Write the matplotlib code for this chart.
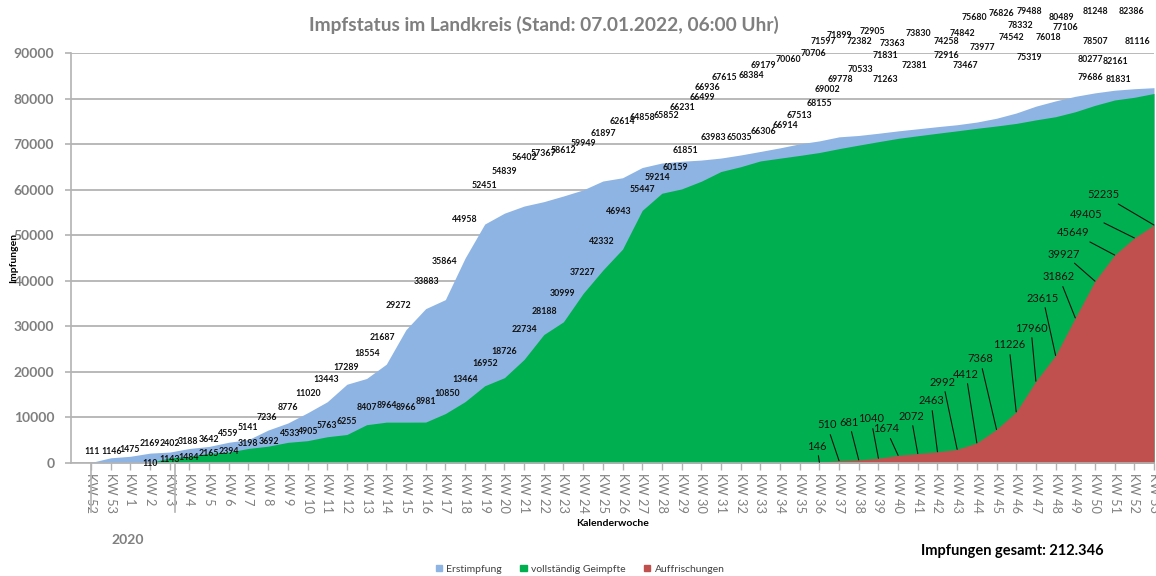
import matplotlib
matplotlib.use("Agg")
import matplotlib.pyplot as plt
from matplotlib.patches import Patch
from matplotlib.transforms import blended_transform_factory
import numpy as np

plt.rcParams['font.family'] = ['Lato', 'DejaVu Sans']

# ---------------- data ----------------
weeks = ["KW 52", "KW 53"] + [f"KW {k}" for k in range(1, 54)]

erstimpfung = [111, 1146, 1475, 2169, 2402, 3188, 3642, 4559, 5141, 7236,
               8776, 11020, 13443, 17289, 18554, 21687, 29272, 33883, 35864, 44958,
               52451, 54839, 56402, 57367, 58612, 59949, 61897, 62614, 64858, 65852,
               66231, 66499, 66936, 67615, 68384, 69179, 70060, 70706, 71597, 71899,
               72382, 72905, 73363, 73830, 74258, 74842, 75680, 76826, 78332, 79488,
               80489, 81248, 81831, 82161, 82386]

# starts at KW 2
vollstaendig_start = "KW 2"
vollstaendig = [110, 1143, 1484, 2165, 2394, 3198, 3692, 4533, 4905, 5763,
                6255, 8407, 8964, 8966, 8981, 10850, 13464, 16952, 18726, 22734,
                28188, 30999, 37227, 42332, 46943, 55447, 59214, 60159, 61851, 63983,
                65035, 66306, 66914, 67513, 68155, 69002, 69778, 70533, 71263, 71831,
                72381, 72916, 73467, 73977, 74542, 75319, 76018, 77106, 78507, 79686,
                80277, 81116]

# starts at KW 36
auffrisch_start = "KW 36"
auffrischungen = [146, 510, 681, 1040, 1674, 2072, 2463, 2992, 4412, 7368,
                  11226, 17960, 23615, 31862, 39927, 45649, 49405, 52235]

title = "Impfstatus im Landkreis (Stand: 07.01.2022, 06:00 Uhr)"
total_text = "Impfungen gesamt: 212.346"

# ---------------- layout (label centres in figure pixels, top-left origin) ----------------
erst_label_px = [(92, 452), (112, 451), (130, 449), (150, 443), (170, 443), (188, 441),
                 (209, 440), (228, 433), (248, 428), (267, 418), (288, 407), (308, 394),
                 (326, 380), (346, 368), (367, 353), (382, 338), (398, 305), (426, 281),
                 (444, 262), (465, 220), (484, 185), (504, 171), (524, 157), (543, 154),
                 (563, 150), (583, 143), (603, 133), (622, 122), (642, 117), (666, 115),
                 (682, 107), (702, 97), (707, 87), (724, 77), (751, 75), (763, 65),
                 (788, 60), (813, 53), (823, 42), (839, 35), (859, 41), (872, 32),
                 (892, 43), (918, 34), (946, 42), (962, 33), (974, 17), (1001, 13),
                 (1020, 26), (1029, 12), (1061, 17), (1095, 12), (1118, 79), (1115, 61),
                 (1131, 12)]
voll_label_px = [(150, 464), (170, 459), (189, 458), (209, 453), (229, 451), (248, 444),
                 (269, 442), (290, 433), (308, 432), (327, 426), (347, 422), (367, 408),
                 (387, 406), (406, 407), (426, 402), (447, 394), (465, 379), (485, 363),
                 (504, 352), (524, 330), (544, 312), (563, 294), (583, 273), (602, 241),
                 (619, 211), (642, 189), (657, 177), (675, 167), (685, 150), (713, 137),
                 (739, 137), (763, 132), (785, 126), (799, 115), (819, 103), (827, 90),
                 (840, 79), (860, 69), (885, 79), (885, 55), (914, 65), (946, 55),
                 (965, 66), (982, 47), (1011, 38), (1029, 57), (1048, 38), (1065, 28),
                 (1095, 42), (1090, 77), (1090, 60), (1137, 42)]
auff_label_px = [(817, 446), (827, 425), (849, 422), (871, 419), (886, 429), (911, 416),
                 (931, 401), (943, 382), (966, 374), (980, 359), (1009, 345), (1031, 328),
                 (1043, 298), (1059, 277), (1064, 254), (1073, 233), (1086, 214), (1103, 195)]

W, H = 1156, 576
C_BLUE = "#8EB4E3"
C_GREEN = "#00B050"
C_RED = "#C0504D"
C_GRAY = "#7F7F7F"
C_GRID = "#B3B3B3"

n = len(weeks)
x = np.arange(n)
i_voll = weeks.index(vollstaendig_start)
i_auff = weeks.index(auffrisch_start)
x_voll = x[i_voll:i_voll + len(vollstaendig)]
x_auff = x[i_auff:i_auff + len(auffrischungen)]

fig = plt.figure(figsize=(W / 100, H / 100), dpi=100)
ax = fig.add_axes([71 / W, 1 - 463 / H, (1154 - 71) / W, (463 - 53) / H])

ax.fill_between(x, 0, erstimpfung, color=C_BLUE, lw=0, zorder=2)
ax.fill_between(x_voll, 0, vollstaendig, color=C_GREEN, lw=0, zorder=3)
ax.fill_between(x_auff, 0, auffrischungen, color=C_RED, lw=0, zorder=4)

ax.set_xlim(-(91 - 71) / 19.685, n - 1)
ax.set_ylim(0, 90000)
ax.set_yticks(np.arange(0, 90001, 10000))
ax.yaxis.grid(True, color=C_GRID, lw=1.3, zorder=0)
ax.set_axisbelow(True)
for s in ["top", "right"]:
    ax.spines[s].set_visible(False)
for s in ["left", "bottom"]:
    ax.spines[s].set_color(C_GRID)
    ax.spines[s].set_linewidth(1.2)
    ax.spines[s].set_zorder(5)

ax.tick_params(axis="y", length=4, color=C_GRID, width=1.2, labelsize=10, labelcolor=C_GRAY, pad=8)
for t in ax.get_yticklabels():
    t.set_fontweight("bold")
ax.set_xticks(x)
ax.set_xticklabels(weeks, rotation=270, fontsize=9.3, color=C_GRAY)
ax.tick_params(axis="x", length=5, color=C_GRID, width=1.0, pad=2)

# group separators on category axis
tr = blended_transform_factory(ax.transData, ax.transAxes)
for gx in [0, (175 - 91) / 19.685]:
    ax.plot([gx, gx], [0, -49 / 410], color=C_GRID, lw=1.2, transform=tr, clip_on=False, zorder=6)

# data labels
def fp(px, py):
    return px / W, 1 - py / H

for v, (px, py) in zip(erstimpfung, erst_label_px):
    fig.text(*fp(px, py), str(v), ha="center", va="center", fontsize=6.3, fontweight="bold", color="#111111")
for v, (px, py) in zip(vollstaendig, voll_label_px):
    fig.text(*fp(px, py), str(v), ha="center", va="center", fontsize=6.3, fontweight="bold", color="#111111")
for xi, v, (px, py) in zip(x_auff, auffrischungen, auff_label_px):
    ax.annotate(str(v), xy=(xi, v), xycoords="data", xytext=(px, H - py), textcoords="figure pixels",
                ha="center", va="center", fontsize=8, color="#111111", zorder=7,
                arrowprops=dict(arrowstyle="-", color="#111111", lw=0.8, shrinkA=1, shrinkB=0))

# titles & texts
fig.text(544 / W, 1 - 25 / H, title, ha="center", va="center", fontsize=13.8, fontweight="bold", color=C_GRAY)
fig.text(14 / W, 1 - 258 / H, "Impfungen", ha="center", va="center", rotation=90, fontsize=7.5, fontweight="bold")
fig.text(613 / W, 1 - 523 / H, "Kalenderwoche", ha="center", va="center", fontsize=7.5, fontweight="bold")
fig.text(128 / W, 1 - 540 / H, "2020", ha="center", va="center", fontsize=10, fontweight="bold", color=C_GRAY)
fig.text(1012 / W, 1 - 551 / H, total_text, ha="center", va="center", fontsize=10.5, fontweight="bold", color="black")

handles = [Patch(color=C_BLUE, label="Erstimpfung"),
           Patch(color=C_GREEN, label="vollständig Geimpfte"),
           Patch(color=C_RED, label="Auffrischungen")]
leg = fig.legend(handles=handles, loc="center", bbox_to_anchor=(580 / W, 1 - 569 / H), ncol=3,
                 frameon=False, fontsize=7.5, handlelength=0.6, handleheight=0.6, handletextpad=0.4,
                 columnspacing=1.8)
for t in leg.get_texts():
    t.set_color("#404040")

fig.savefig("out.png", dpi=100)
